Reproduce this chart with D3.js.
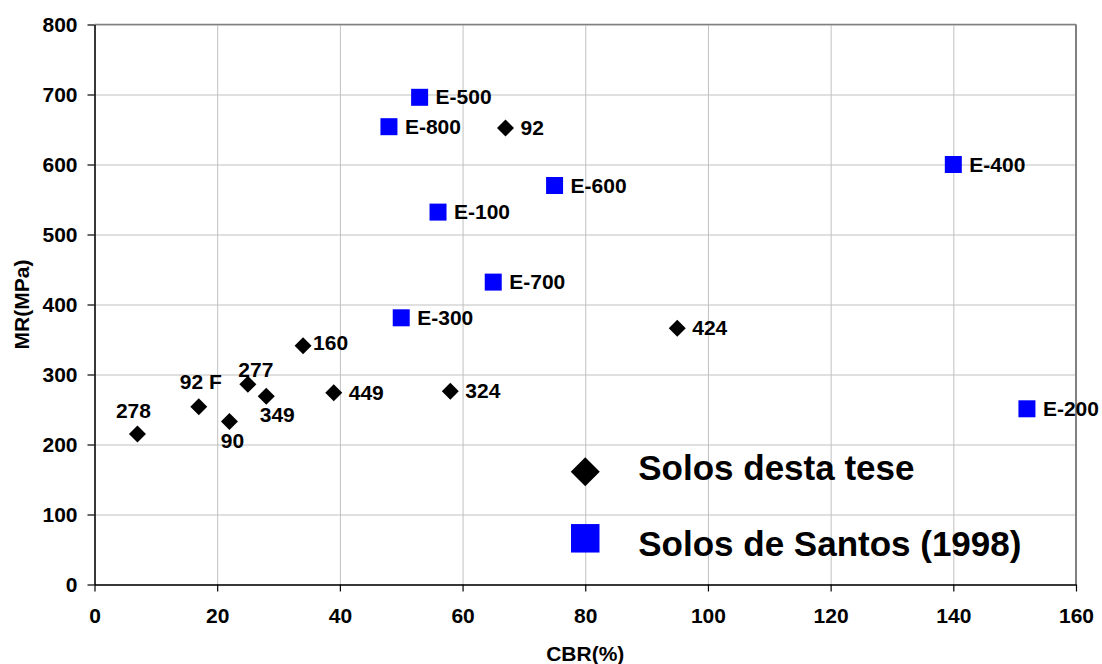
<!DOCTYPE html>
<html>
<head>
<meta charset="utf-8">
<script src="https://cdn.jsdelivr.net/npm/d3@7"></script>
<style>
  body { margin: 0; background: #fff; }
  svg text { font-family: "Liberation Sans", Arial, sans-serif; font-weight: bold; fill: #000; }
</style>
</head>
<body>
<div id="chart"></div>
<script>
/*
MR x CBR scatter
*/

// Solos desta tese (black diamonds)
var teseNames = ["278", "92 F", "90", "277", "349", "160", "449", "324", "92", "424"];
var teseCBR   = [7, 17, 22, 25, 28, 34, 39, 58, 67, 95];
var teseMR    = [215, 254, 233, 286, 269, 341, 274, 276, 652, 366];

// Solos de Santos (1998) (blue squares)
var santosNames = ["E-500", "E-800", "E-600", "E-100", "E-700", "E-300", "E-400", "E-200"];
var santosCBR   = [53, 48, 75, 56, 65, 50, 140, 152];
var santosMR    = [696, 654, 570, 532, 432, 381, 600, 251];

var xTicks = [0, 20, 40, 60, 80, 100, 120, 140, 160];
var yTicks = [0, 100, 200, 300, 400, 500, 600, 700, 800];

var legendNames = ["Solos desta tese", "Solos de Santos (1998)"];

// where each point label sits: [anchor, dx, dy]
var labelPlace = {
    "278":  ["middle", -4, -16],
    "92 F": ["middle", 2, -18],
    "90":   ["middle", 3, 27],
    "277":  ["middle", 8, -7],
    "349":  ["middle", 11, 26],
    "160":  ["start", 10, 4]
};

var svgWidth = 1102,
    svgHeight = 664;

var margin = { left: 94.5, right: 26, top: 24.5, bottom: 79.5 };

var width = svgWidth - margin.left - margin.right,
    height = svgHeight - margin.top - margin.bottom;

var svg = d3.select("#chart")
    .append("svg")
        .attr("width", svgWidth)
        .attr("height", svgHeight);

svg.append("rect")
    .attr("width", svgWidth)
    .attr("height", svgHeight)
    .attr("fill", "#fff");

var g = svg.append("g")
    .attr("transform", `translate(${margin.left}, ${margin.top})`);

var x = d3.scaleLinear().domain([0, 160]).range([0, width]);
var y = d3.scaleLinear().domain([0, 800]).range([height, 0]);

// grid
var xGrid = g.append("g")
    .attr("transform", `translate(0, ${height})`)
    .call(d3.axisBottom(x).tickValues(xTicks).tickSize(-height).tickFormat(""));
var yGrid = g.append("g")
    .call(d3.axisLeft(y).tickValues(yTicks).tickSize(-width).tickFormat(""));
[xGrid, yGrid].forEach(a => {
    a.select(".domain").remove();
    a.selectAll("line").attr("stroke", "#c0c0c0").attr("stroke-width", 1);
});

// top and right plot border
g.append("line")
    .attr("x1", 0).attr("x2", width).attr("y1", 0).attr("y2", 0)
    .attr("stroke", "#808080").attr("stroke-width", 1.5);
g.append("line")
    .attr("x1", width).attr("x2", width).attr("y1", 0).attr("y2", height)
    .attr("stroke", "#808080").attr("stroke-width", 2);

// axes
var xAxisGroup = g.append("g")
    .attr("transform", `translate(0, ${height})`)
    .call(d3.axisBottom(x).tickValues(xTicks).tickSize(7).tickSizeOuter(0).tickPadding(17));
var yAxisGroup = g.append("g")
    .call(d3.axisLeft(y).tickValues(yTicks).tickSize(7).tickSizeOuter(0).tickPadding(10));
[xAxisGroup, yAxisGroup].forEach(a => {
    a.select(".domain").attr("stroke", "#000").attr("stroke-width", 1.5);
    a.selectAll("line").attr("stroke", "#000").attr("stroke-width", 1.2);
    a.selectAll("text")
        .attr("font-size", "21px")
        .attr("font-family", "Liberation Sans, Arial, sans-serif")
        .attr("font-weight", "bold")
        .attr("fill", "#000");
});

// axis titles
g.append("text")
    .attr("x", width / 2)
    .attr("y", height + 76)
    .attr("text-anchor", "middle")
    .attr("font-size", "21px")
    .text("CBR(%)");

g.append("text")
    .attr("transform", "rotate(-90)")
    .attr("x", -height / 2)
    .attr("y", -margin.left + 29)
    .attr("text-anchor", "middle")
    .attr("font-size", "21px")
    .text("MR(MPa)");

// points
var diamond = d3.symbol().type(d3.symbolSquare).size(144);
var square = d3.symbol().type(d3.symbolSquare).size(289);

var tese = teseNames.map((n, i) => ({ name: n, cbr: teseCBR[i], mr: teseMR[i] }));
var santos = santosNames.map((n, i) => ({ name: n, cbr: santosCBR[i], mr: santosMR[i] }));

g.selectAll(".tese")
    .data(tese)
    .enter().append("path")
        .attr("class", "tese")
        .attr("d", diamond)
        .attr("transform", d => `translate(${x(d.cbr)}, ${y(d.mr)}) rotate(45)`)
        .attr("fill", "#000");

g.selectAll(".santos")
    .data(santos)
    .enter().append("path")
        .attr("class", "santos")
        .attr("d", square)
        .attr("transform", d => `translate(${x(d.cbr)}, ${y(d.mr)})`)
        .attr("fill", "#0000ff");

// point labels
function addLabels(data, rightDx) {
    g.selectAll(null)
        .data(data)
        .enter().append("text")
            .attr("font-size", "21px")
            .attr("text-anchor", d => labelPlace[d.name] ? labelPlace[d.name][0] : "start")
            .attr("x", d => x(d.cbr) + (labelPlace[d.name] ? labelPlace[d.name][1] : rightDx))
            .attr("y", d => y(d.mr) + (labelPlace[d.name] ? labelPlace[d.name][2] : 7))
            .text(d => d.name);
}
addLabels(tese, 15);
addLabels(santos, 16);

// legend
var legend = g.append("g")
    .attr("transform", `translate(${x(80)}, 0)`);

legend.append("path")
    .attr("d", d3.symbol().type(d3.symbolSquare).size(420))
    .attr("transform", `translate(0, ${y(161)}) rotate(45)`)
    .attr("fill", "#000");
legend.append("path")
    .attr("d", d3.symbol().type(d3.symbolSquare).size(812))
    .attr("transform", `translate(0, ${y(66)})`)
    .attr("fill", "#0000ff");

legend.selectAll(".legend-text")
    .data(legendNames)
    .enter().append("text")
        .attr("class", "legend-text")
        .attr("x", 53)
        .attr("y", (d, i) => i === 0 ? y(149) : y(41))
        .attr("font-size", "35px")
        .text(d => d);
</script>
</body>
</html>
